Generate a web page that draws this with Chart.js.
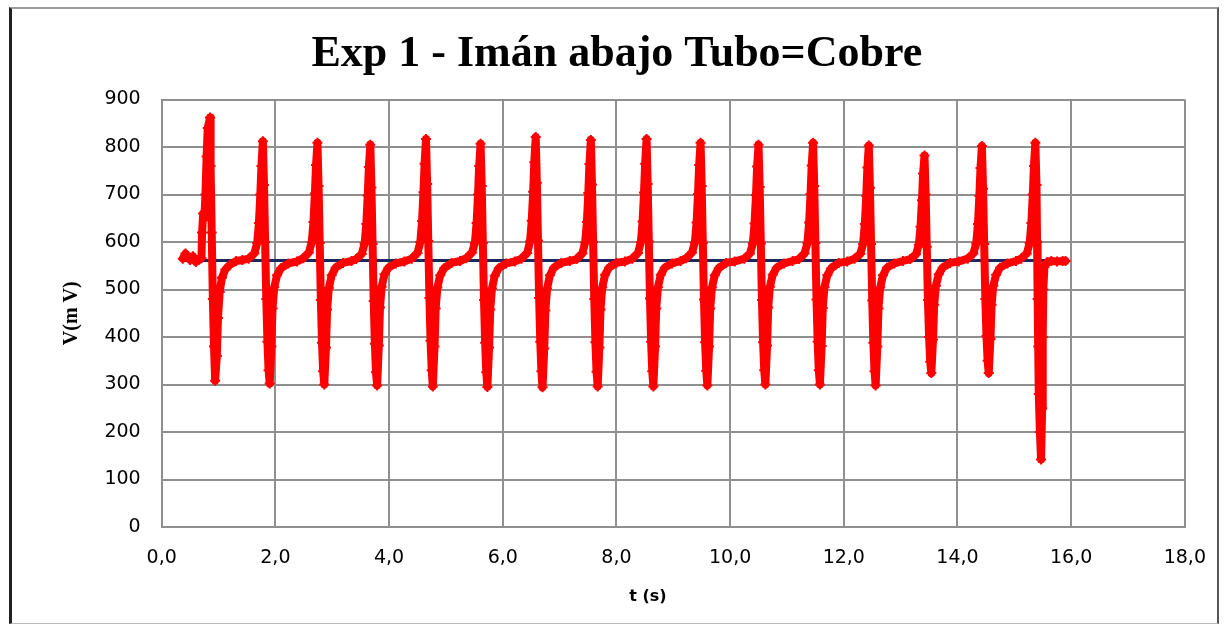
<!DOCTYPE html>
<html>
<head>
<meta charset="utf-8">
<script src="https://cdn.jsdelivr.net/npm/chart.js@4.4.1/dist/chart.umd.min.js"></script>
<style>
html,body{margin:0;padding:0;background:#fff;overflow:hidden;}
#wrap{position:relative;width:1226px;height:625px;}
#c{position:absolute;left:0;top:0;}
#frame{position:absolute;left:9px;top:7px;width:1210px;height:617px;box-sizing:border-box;
  border-left:3px solid #222;border-top:2px solid #9a9a9a;border-right:2px solid #555;border-bottom:1px solid #bbb;pointer-events:none;}
</style>
</head>
<body>
<div id="wrap"><canvas id="c" width="1226" height="625"></canvas><div id="frame"></div></div>
<script>
// ---- data ----
const chartTitle = 'Exp 1 - Imán abajo Tubo=Cobre';
const xTitle = 't (s)';
const yTitle = 'V(m V)';

// time (s), one line per pulse
const timeS = [
  0.37,0.42,0.46,0.50,0.55,0.60,0.65,0.70,0.71,0.73,0.75,0.77,0.79,0.81,0.85,0.86,0.88,0.90,0.92,0.94,0.97,0.99,1.02,1.06,1.12,1.20,1.31,1.42,
  1.53,1.63,1.68,1.71,1.735,1.755,1.78,1.80,1.82,1.84,1.86,1.88,1.90,1.93,1.95,1.98,2.03,2.10,2.23,2.38,
  2.49,2.59,2.64,2.67,2.695,2.715,2.74,2.76,2.78,2.80,2.82,2.84,2.86,2.89,2.91,2.94,2.99,3.06,3.19,3.34,
  3.42,3.52,3.57,3.60,3.625,3.645,3.67,3.69,3.71,3.73,3.75,3.77,3.79,3.82,3.84,3.87,3.92,3.99,4.12,4.27,
  4.40,4.50,4.55,4.58,4.605,4.625,4.65,4.67,4.69,4.71,4.73,4.75,4.77,4.80,4.82,4.85,4.90,4.97,5.10,5.25,
  5.36,5.46,5.51,5.54,5.565,5.585,5.61,5.63,5.65,5.67,5.69,5.71,5.73,5.76,5.78,5.81,5.86,5.93,6.06,6.21,
  6.33,6.43,6.48,6.51,6.535,6.555,6.58,6.60,6.62,6.64,6.66,6.68,6.70,6.73,6.75,6.78,6.83,6.90,7.03,7.18,
  7.30,7.40,7.45,7.48,7.505,7.525,7.55,7.57,7.59,7.61,7.63,7.65,7.67,7.70,7.72,7.75,7.80,7.87,8.00,8.15,
  8.28,8.38,8.43,8.46,8.485,8.505,8.53,8.55,8.57,8.59,8.61,8.63,8.65,8.68,8.70,8.73,8.78,8.85,8.98,9.13,
  9.23,9.33,9.38,9.41,9.435,9.455,9.48,9.50,9.52,9.54,9.56,9.58,9.60,9.63,9.65,9.68,9.73,9.80,9.93,10.08,
  10.25,10.35,10.40,10.43,10.455,10.475,10.50,10.52,10.54,10.56,10.58,10.60,10.62,10.65,10.67,10.70,10.75,10.82,10.95,11.10,
  11.21,11.31,11.36,11.39,11.415,11.435,11.46,11.48,11.50,11.52,11.54,11.56,11.58,11.61,11.63,11.66,11.71,11.78,11.91,12.06,
  12.19,12.29,12.34,12.37,12.395,12.415,12.44,12.46,12.48,12.50,12.52,12.54,12.56,12.59,12.61,12.64,12.69,12.76,12.89,13.04,
  13.17,13.27,13.32,13.35,13.375,13.395,13.42,13.44,13.46,13.48,13.50,13.52,13.54,13.57,13.59,13.62,13.67,13.74,13.87,14.02,
  14.18,14.28,14.33,14.36,14.385,14.405,14.43,14.45,14.47,14.49,14.51,14.53,14.55,14.58,14.60,14.63,14.68,14.75,14.88,15.03,
  15.12,15.22,15.27,15.30,15.325,15.345,15.37,15.39,15.40,15.41,15.42,15.43,15.45,15.47,15.49,15.50,15.51,15.53,15.58,15.65,15.75,15.85,15.90
];

// voltage (mV), same layout as timeS
const voltageMV = [
  565,576,568,562,570,558,562,566,620,660,650,700,780,840,862,760,620,480,380,308,360,440,495,525,542,552,560,562,
  565,576,598,640,700,760,812,720,600,480,390,330,302,380,460,505,530,545,555,559,
  566,578,600,642,702,762,809,718,598,478,388,328,300,378,458,503,530,546,556,560,
  564,575,597,638,698,758,805,715,596,476,386,326,298,382,462,506,532,546,555,559,
  565,577,600,644,705,765,817,722,602,482,392,330,296,380,460,504,530,545,556,560,
  566,578,598,640,700,760,807,718,598,478,388,326,295,378,458,502,529,545,555,559,
  565,577,601,645,706,768,821,725,603,482,390,328,294,376,456,502,530,546,556,560,
  564,576,599,642,703,764,815,721,600,480,389,327,296,378,458,504,531,546,556,559,
  565,577,600,643,704,765,817,722,601,481,390,328,296,380,460,505,531,546,555,560,
  566,578,599,641,701,762,809,718,598,479,389,329,298,380,460,504,530,545,556,559,
  565,576,597,639,699,759,805,716,597,478,389,330,300,382,462,506,531,546,555,560,
  564,576,598,641,701,761,809,718,598,479,390,330,300,381,461,505,530,545,556,559,
  565,575,596,638,697,757,803,714,596,477,388,328,298,380,460,504,530,546,555,560,
  564,574,594,632,688,744,782,700,590,478,400,348,324,395,468,508,532,546,556,559,
  565,576,597,638,697,756,802,712,596,480,402,350,324,396,468,508,531,546,555,560,
  565,576,598,640,700,760,809,720,600,480,380,280,200,142,250,400,500,548,558,560,559,560,560
];

// dark blue reference (mean) line
const meanTimeS = [0.37, 15.92];
const meanVoltageMV = [561, 561];

const xTickValues = [0, 2, 4, 6, 8, 10, 12, 14, 16, 18];
const xTickLabels = ['0,0','2,0','4,0','6,0','8,0','10,0','12,0','14,0','16,0','18,0'];
const yTickValues = [0, 100, 200, 300, 400, 500, 600, 700, 800, 900];
const yTickLabels = ['0','100','200','300','400','500','600','700','800','900'];

// ---- build chart ----
const signalPts = timeS.map((t, i) => ({x: t, y: voltageMV[i]}));
const meanPts = meanTimeS.map((t, i) => ({x: t, y: meanVoltageMV[i]}));

const gridColor = '#8f8f8f';
const bgPlugin = {
  id: 'bg',
  beforeDraw(chart) {
    const c = chart.ctx;
    c.save(); c.fillStyle = '#fff'; c.fillRect(0, 0, chart.width, chart.height); c.restore();
  }
};
// x-axis title, placed where the reference puts it (left of the plot centre)
const xTitlePlugin = {
  id: 'xTitle',
  afterDraw(chart) {
    const c = chart.ctx;
    c.save();
    c.font = 'bold 16px "DejaVu Sans", Verdana, sans-serif';
    c.fillStyle = '#000'; c.textAlign = 'center'; c.textBaseline = 'middle';
    c.fillText(xTitle, 648, 597);
    c.restore();
  }
};

new Chart(document.getElementById('c').getContext('2d'), {
  type: 'line',
  data: {
    datasets: [
      {
        label: 'V', data: signalPts, order: 0,
        borderColor: '#ff0000', backgroundColor: '#ff0000', borderWidth: 8,
        borderJoinStyle: 'round', borderCapStyle: 'round',
        pointStyle: 'cross', pointRadius: 5, pointBorderWidth: 2,
        pointBorderColor: '#ff0000', pointBackgroundColor: '#ff0000',
        tension: 0, fill: false
      },
      {
        label: 'media', data: meanPts, order: 1,
        borderColor: '#1b2a5e', borderWidth: 3, pointRadius: 0, tension: 0, fill: false
      }
    ]
  },
  options: {
    responsive: false, animation: false, devicePixelRatio: 1,
    layout: { padding: { left: 46, right: 38.3, top: 0, bottom: 0 } },
    plugins: {
      legend: { display: false },
      tooltip: { enabled: false },
      title: {
        display: true, text: chartTitle, color: '#000',
        font: { family: '"Liberation Serif", "Times New Roman", serif', size: 44, weight: 'bold', lineHeight: 1.2 },
        padding: { top: 28.6, bottom: 18.1 }
      }
    },
    scales: {
      x: {
        type: 'linear', min: 0, max: 18,
        afterBuildTicks: s => { s.ticks = xTickValues.map(v => ({ value: v })); },
        afterFit: s => { s.height = 98; },
        ticks: {
          callback: (v) => xTickLabels[xTickValues.indexOf(v)],
          font: { family: '"DejaVu Sans", Verdana, sans-serif', size: 19 },
          color: '#000', padding: 20, maxRotation: 0, autoSkip: false
        },
        grid: { color: gridColor, lineWidth: 2, drawTicks: false },
        border: { color: gridColor, width: 2 },
        title: { display: false }
      },
      y: {
        type: 'linear', min: 0, max: 900,
        afterBuildTicks: s => { s.ticks = yTickValues.map(v => ({ value: v })); },
        afterFit: s => { s.width = 115.7; },
        ticks: {
          callback: (v) => yTickLabels[yTickValues.indexOf(v)],
          font: { family: '"DejaVu Sans", Verdana, sans-serif', size: 19 },
          color: '#000', padding: 21, autoSkip: false
        },
        grid: { color: gridColor, lineWidth: 2, drawTicks: false },
        border: { color: gridColor, width: 2 },
        title: {
          display: true, text: yTitle, color: '#000',
          font: { family: '"Liberation Serif", "Times New Roman", serif', size: 20, weight: 'bold', lineHeight: 1.2 },
          padding: { top: 13.5, bottom: 0 }
        }
      }
    }
  },
  plugins: [bgPlugin, xTitlePlugin]
});
</script>
</body>
</html>
